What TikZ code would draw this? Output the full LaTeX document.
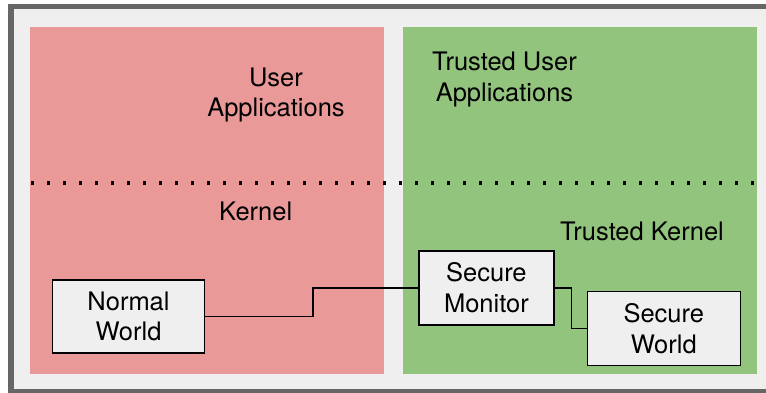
\documentclass[tikz,border=0pt]{standalone}
\usepackage{fontspec}
\setmainfont{TeX Gyre Heros}
\definecolor{framegray}{HTML}{666666}
\definecolor{bggray}{HTML}{EFEFEF}
\definecolor{normalred}{HTML}{EA9999}
\definecolor{securegreen}{HTML}{93C47D}
\begin{document}
\begin{tikzpicture}[x=1pt, y=-1pt,
		world/.style = {draw, fill=bggray, line width=1.5pt, inner sep=0pt, align=center,
			minimum width=152pt, minimum height=73pt},
		label/.style = {inner sep=0pt, align=center},
		every node/.style = {font=\fontsize{25.5}{30.5}\selectfont}]
		
		\useasboundingbox (0,0) rectangle (766,393);
		\clip (0,0) rectangle (766,393);
		\fill[white] (0,0) rectangle (766,393);
		\draw[framegray, fill=bggray, line width=5.5pt] (11,6.7) rectangle (775,392);
		\fill[normalred] (30,27) rectangle (384,374);
		\fill[securegreen] (403,27) rectangle (757,374);
		
		\node[label] (userapps) at (276,95) {User\\Applications};
		\node[label] (trustedapps) at (504.5,79.5) {Trusted User\\Applications};
		\node[label, anchor=base] (kernel) at (255.7,220) {Kernel};
		\node[label, anchor=base] (trustedkernel) at (642,240.7) {Trusted Kernel};
		
		\coordinate (sepleft) at (31,183);
		\coordinate (sepright) at (757,183);
		\draw[line width=3.2pt, dash pattern=on 3.2pt off 12.8pt] (sepleft) -- (sepright);
		
		\node[world] (normal) at (128.5,316.6) {Normal\\World};
		\node[world, minimum width=135pt, minimum height=74pt] (monitor) at (486.4,287.9) {Secure\\Monitor};
		\node[world, minimum width=153pt, minimum height=74pt] (secure) at (663.8,328.7) {Secure\\World};
		
		\draw[line width=1.5pt] (normal.east) -- ++(107.7,0) |- (monitor.west);
		\draw[line width=1.5pt] (monitor.east) -- ++(16.7,0) |- (secure.west);
		\end{tikzpicture}
\end{document}
